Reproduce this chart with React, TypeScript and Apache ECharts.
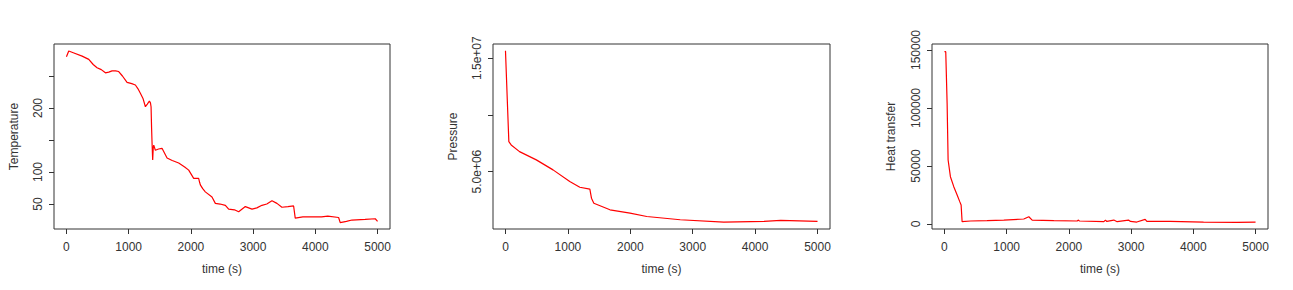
import React, { useEffect, useRef } from "react";
import * as echarts from "echarts";

const xTicks = [0, 1000, 2000, 3000, 4000, 5000];

const tempTime = [0, 37, 120, 252, 359, 430, 492, 560, 626, 680, 733, 790, 840, 900, 974, 1050, 1108, 1150, 1188, 1230, 1269, 1300, 1333, 1350, 1360, 1368, 1376, 1386, 1395, 1403, 1429, 1480, 1536, 1617, 1700, 1804, 1900, 1965, 2045, 2125, 2140, 2152, 2190, 2232, 2339, 2393, 2470, 2554, 2607, 2700, 2768, 2875, 2982, 3060, 3142, 3220, 3303, 3383, 3463, 3560, 3651, 3677, 3800, 3945, 4100, 4200, 4374, 4400, 4500, 4588, 4800, 4963, 5000];
const tempValues = [280, 289, 286, 281, 276, 268, 263, 260, 255, 256, 258, 258, 257, 250, 240, 238, 236, 230, 223, 215, 202, 206, 211, 208, 202, 170, 145, 119, 138, 142, 134, 136, 137, 122, 118, 114, 108, 103, 90, 90, 84, 80, 74, 69, 61, 51, 50, 48, 42, 41, 38, 46, 42, 44, 48, 50, 55, 51, 45, 46, 47, 28, 30, 30, 30, 31, 29, 21, 23, 25, 26, 27, 23];

const pressTime = [0, 27, 54, 91, 225, 494, 762, 1030, 1191, 1352, 1378, 1416, 1674, 1996, 2264, 2800, 3498, 4142, 4410, 5000];
const pressValues = [1.5645e7, 1.16e7, 7.64e6, 7.35e6, 6.76e6, 6.03e6, 5.15e6, 4.12e6, 3.62e6, 3.45e6, 2.65e6, 2.21e6, 1.63e6, 1.33e6, 1.04e6, 0.75e6, 0.54e6, 0.6e6, 0.69e6, 0.6e6];

const heatTime = [0, 21, 43, 59, 96, 150, 204, 246, 268, 284, 418, 686, 954, 1275, 1356, 1410, 1758, 2133, 2149, 2170, 2562, 2588, 2610, 2722, 2776, 2958, 2990, 3092, 3226, 3253, 3628, 4164, 4700, 5000];
const heatValues = [148600, 148600, 104000, 55200, 40800, 32200, 25000, 19300, 16400, 2000, 2600, 2900, 3400, 4300, 6300, 3400, 2900, 2600, 3400, 2600, 2000, 3400, 2200, 3400, 2000, 3400, 2200, 1700, 4000, 2300, 2300, 1700, 1400, 1600];

const pairs = (xs: number[], ys: number[]) => xs.map((x, i) => [x, ys[i]]);

const textColor = "#333";
const fontFamily = "Liberation Sans, Arial, sans-serif";
const fontSize = 12;
const plain = (v: number) => String(v);

function xAxis(gridIndex: number) {
  return {
    type: "value",
    gridIndex,
    min: -200,
    max: 5200,
    name: "time (s)",
    nameLocation: "middle",
    nameGap: 34,
    nameTextStyle: { color: textColor, fontSize, fontFamily },
    axisLine: { show: false, onZero: false },
    axisTick: { show: true, inside: false, length: 5, lineStyle: { color: "#333" }, customValues: xTicks },
    axisLabel: { color: textColor, fontSize, fontFamily, margin: 12, customValues: xTicks, formatter: plain },
    splitLine: { show: false },
  };
}

function yAxis(gridIndex: number, opts: any) {
  return {
    type: "value",
    gridIndex,
    position: "left",
    min: opts.min,
    max: opts.max,
    name: opts.name,
    nameLocation: "middle",
    nameRotate: 90,
    nameGap: opts.nameGap,
    nameTextStyle: { color: textColor, fontSize, fontFamily },
    axisLine: { show: false, onZero: false },
    axisTick: { show: true, inside: false, length: 5, lineStyle: { color: "#333", width: 1 }, customValues: opts.ticks },
    axisLabel: {
      color: textColor,
      fontSize,
      fontFamily,
      rotate: 90,
      margin: 10,
      customValues: opts.labels,
      formatter: opts.formatter || plain,
    },
    splitLine: { show: false },
  };
}

export default function App() {
  const ref = useRef<HTMLDivElement>(null);
  useEffect(() => {
    if (!ref.current) return;
    const chart = echarts.init(ref.current, undefined, { renderer: "svg" });
    const gridBase = { top: 44, height: 185, width: 336, show: true, borderColor: "#333", borderWidth: 1, backgroundColor: "transparent" };
    chart.setOption({
      animation: false,
      backgroundColor: "#fff",
      grid: [
        { ...gridBase, left: 54 },
        { ...gridBase, left: 493, width: 337 },
        { ...gridBase, left: 932 },
      ],
      xAxis: [xAxis(0), xAxis(1), xAxis(2)],
      yAxis: [
        yAxis(0, { min: 11, max: 300, name: "Temperature", nameGap: 34, ticks: [50, 100, 150, 200, 250], labels: [50, 100, 200] }),
        yAxis(1, {
          min: -0.064e6,
          max: 1.6249e7,
          name: "Pressure",
          nameGap: 34,
          ticks: [5e6, 1e7, 1.5e7],
          labels: [5e6, 1.5e7],
          formatter: (v: number) => v.toExponential(1).replace(/e\+(\d)$/, "e+0$1"),
        }),
        yAxis(2, { min: -4300, max: 155200, name: "Heat transfer", nameGap: 35, ticks: [0, 50000, 100000, 150000], labels: [0, 50000, 100000, 150000] }),
      ],
      series: [
        { type: "line", xAxisIndex: 0, yAxisIndex: 0, data: pairs(tempTime, tempValues), showSymbol: false, lineStyle: { color: "#ff0000", width: 1.2 } },
        { type: "line", xAxisIndex: 1, yAxisIndex: 1, data: pairs(pressTime, pressValues), showSymbol: false, lineStyle: { color: "#ff0000", width: 1.2 } },
        { type: "line", xAxisIndex: 2, yAxisIndex: 2, data: pairs(heatTime, heatValues), showSymbol: false, lineStyle: { color: "#ff0000", width: 1.2 } },
      ],
    });
    return () => chart.dispose();
  }, []);
  return <div ref={ref} style={{ position: "fixed", left: 0, top: 0, width: 1293, height: 290 }} />;
}
